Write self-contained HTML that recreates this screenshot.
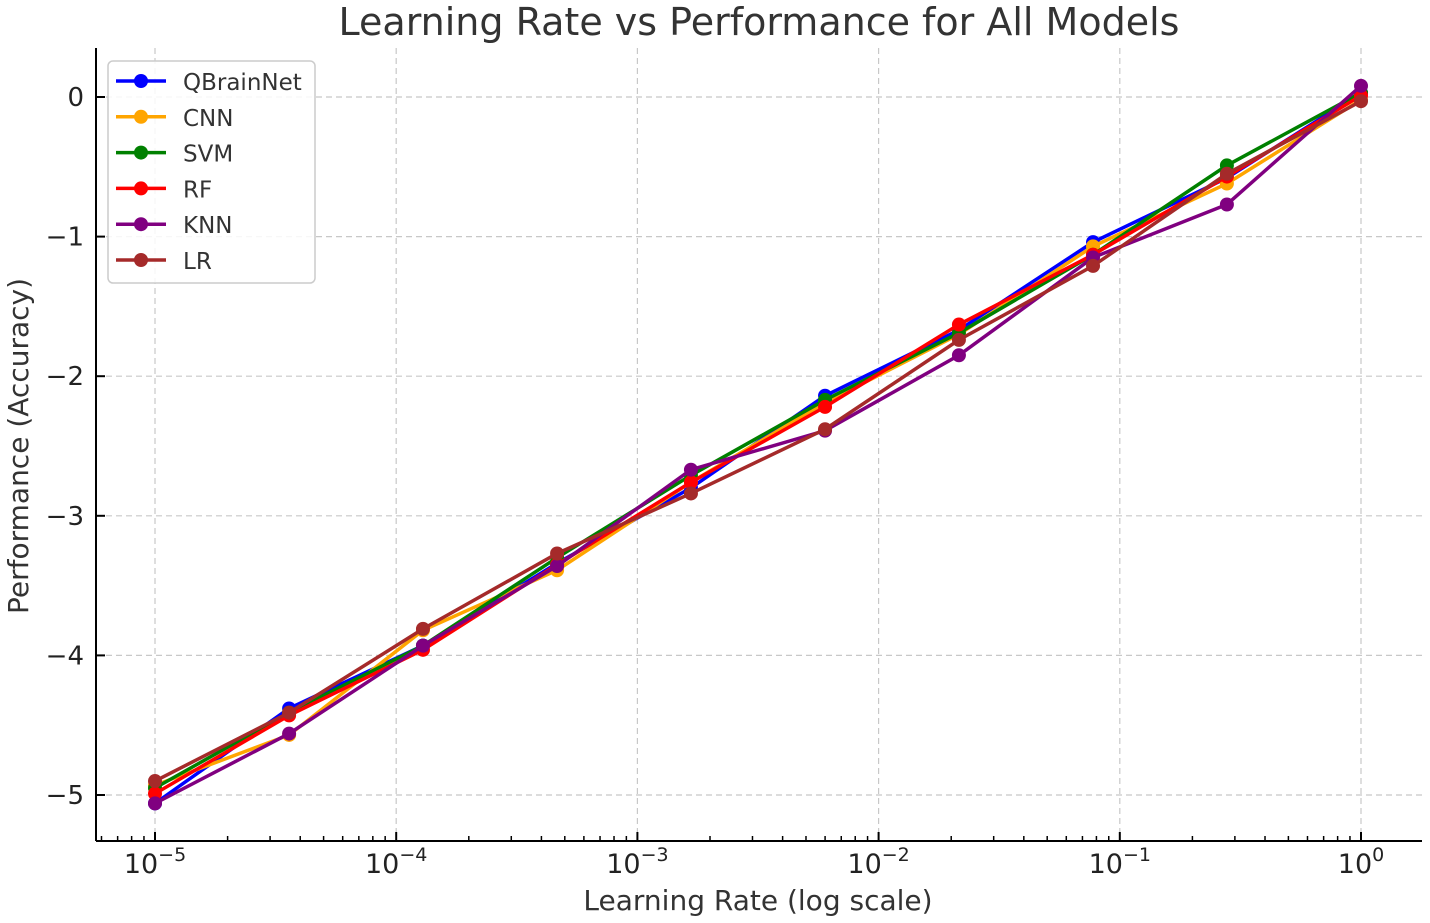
<!DOCTYPE html>
<html><head><meta charset="utf-8"><style>
html,body{margin:0;padding:0;background:#fff;}
svg{display:block;font-family:"DejaVu Sans","Liberation Sans",sans-serif;}
</style></head><body>
<svg id="chart" width="1430" height="923" viewBox="0 0 1430 923">
<text x="759" y="35" text-anchor="middle" font-size="38" fill="#333">Learning Rate vs Performance for All Models</text>
<text x="758" y="910" text-anchor="middle" font-size="28" fill="#333">Learning Rate (log scale)</text>
<text transform="translate(28,446) rotate(-90)" text-anchor="middle" font-size="28" fill="#333">Performance (Accuracy)</text>
<g id="grid"></g><g id="series"></g><g id="axes"></g><g id="legend"></g>
</svg>
<script>
const xExponents=[-5,-4.444,-3.889,-3.333,-2.778,-2.222,-1.667,-1.111,-0.556,0];
const qbrainnet=[-5.06,-4.38,-3.93,-3.34,-2.80,-2.14,-1.67,-1.04,-0.58,0.03];
const cnn=[-4.93,-4.57,-3.82,-3.39,-2.76,-2.19,-1.70,-1.07,-0.62,-0.02];
const svm=[-4.95,-4.41,-3.93,-3.30,-2.71,-2.17,-1.69,-1.13,-0.49,0.03];
const rf=[-4.99,-4.43,-3.96,-3.35,-2.76,-2.22,-1.63,-1.13,-0.57,0.01];
const knn=[-5.06,-4.56,-3.93,-3.36,-2.67,-2.39,-1.85,-1.15,-0.77,0.08];
const lr=[-4.90,-4.41,-3.81,-3.27,-2.84,-2.38,-1.74,-1.21,-0.55,-0.03];
const seriesNames=["QBrainNet","CNN","SVM","RF","KNN","LR"];
const seriesColors=["#0000ff","#ffa500","#008000","#ff0000","#800080","#a52a2a"];
const yTicks=[0,-1,-2,-3,-4,-5];
const xTickExps=[-5,-4,-3,-2,-1,0];

const NS="http://www.w3.org/2000/svg";
const L=96,R=1422,T=48,B=841;
function xs(e){return 155+(e+5)*(1361-155)/5;}
function ys(v){return 97-v*(795-97)/5;}
function mk(tag,attrs,parent){const el=document.createElementNS(NS,tag);for(const k in attrs)el.setAttribute(k,attrs[k]);parent.appendChild(el);return el;}
const grid=document.getElementById('grid'),axes=document.getElementById('axes'),ser=document.getElementById('series'),leg=document.getElementById('legend');

yTicks.forEach(v=>{
  const y=ys(v);
  const g=mk('line',{x1:L,x2:R,y1:y,y2:y,stroke:'#c8c8c8','stroke-dasharray':'6,4','stroke-width':1.2},grid);
  
  
  const t=mk('line',{x1:L,x2:L+9,y1:y,y2:y,stroke:'#000','stroke-width':2},axes);
  
  
  const lb=mk('text',{x:84,y:y+9,'text-anchor':'end','font-size':26,fill:'#222'},axes);
  lb.textContent=v<0?'\u2212'+Math.abs(v):String(v);
  
  
});
xTickExps.forEach(e=>{
  const x=xs(e);
  const g=mk('line',{x1:x,x2:x,y1:T,y2:B,stroke:'#c8c8c8','stroke-dasharray':'6,4','stroke-width':1.2},grid);
  
  
  const t=mk('line',{x1:x,x2:x,y1:B,y2:B-9,stroke:'#000','stroke-width':2},axes);
  
  
  const lb=mk('text',{x:x,y:873,'text-anchor':'middle','font-size':27,fill:'#222'},axes);
  
  
  const base=mk('tspan',{},lb);base.textContent='10';
  const sup=mk('tspan',{dy:-12,'font-size':19},lb);sup.textContent=e<0?'\u2212'+Math.abs(e):String(e);
});
for(let d=-6;d<=0;d++){for(let m=2;m<=9;m++){const e=d+Math.log10(m);const x=xs(e);if(x<L||x>R)continue;
  const t=mk('line',{x1:x,x2:x,y1:B,y2:B-5,stroke:'#000','stroke-width':1.5},axes);
  
  }}
const sl=mk('line',{x1:L,x2:L,y1:T,y2:B,stroke:'#000','stroke-width':2},axes);


const sb=mk('line',{x1:L,x2:R,y1:B,y2:B,stroke:'#000','stroke-width':2},axes);



const allData=[qbrainnet,cnn,svm,rf,knn,lr];
allData.forEach((arr,i)=>{
  const g=mk('g',{},ser);
  
  
  const pts=arr.map((v,j)=>xs(xExponents[j])+','+ys(v)).join(' ');
  const pl=mk('polyline',{points:pts,fill:'none',stroke:seriesColors[i],'stroke-width':3.5},g);
  
  
  arr.forEach((v,j)=>{
    const c=mk('circle',{cx:xs(xExponents[j]),cy:ys(v),r:7,fill:seriesColors[i]},g);
    
    
  });
});

const box=mk('rect',{x:108,y:61,width:207,height:222,rx:5,fill:'#fff','fill-opacity':0.85,stroke:'#ccc','stroke-width':1.5},leg);


seriesNames.forEach((n,i)=>{
  const y=81+i*35.8;
  const g=mk('g',{},leg);
  
  
  mk('line',{x1:116,x2:166,y1:y,y2:y,stroke:seriesColors[i],'stroke-width':3.5},g);
  mk('circle',{cx:141,cy:y,r:7,fill:seriesColors[i]},g);
  const t=mk('text',{x:183,y:y+9,'font-size':23,fill:'#333'},g);
  t.textContent=n;
});
</script>
</body></html>
